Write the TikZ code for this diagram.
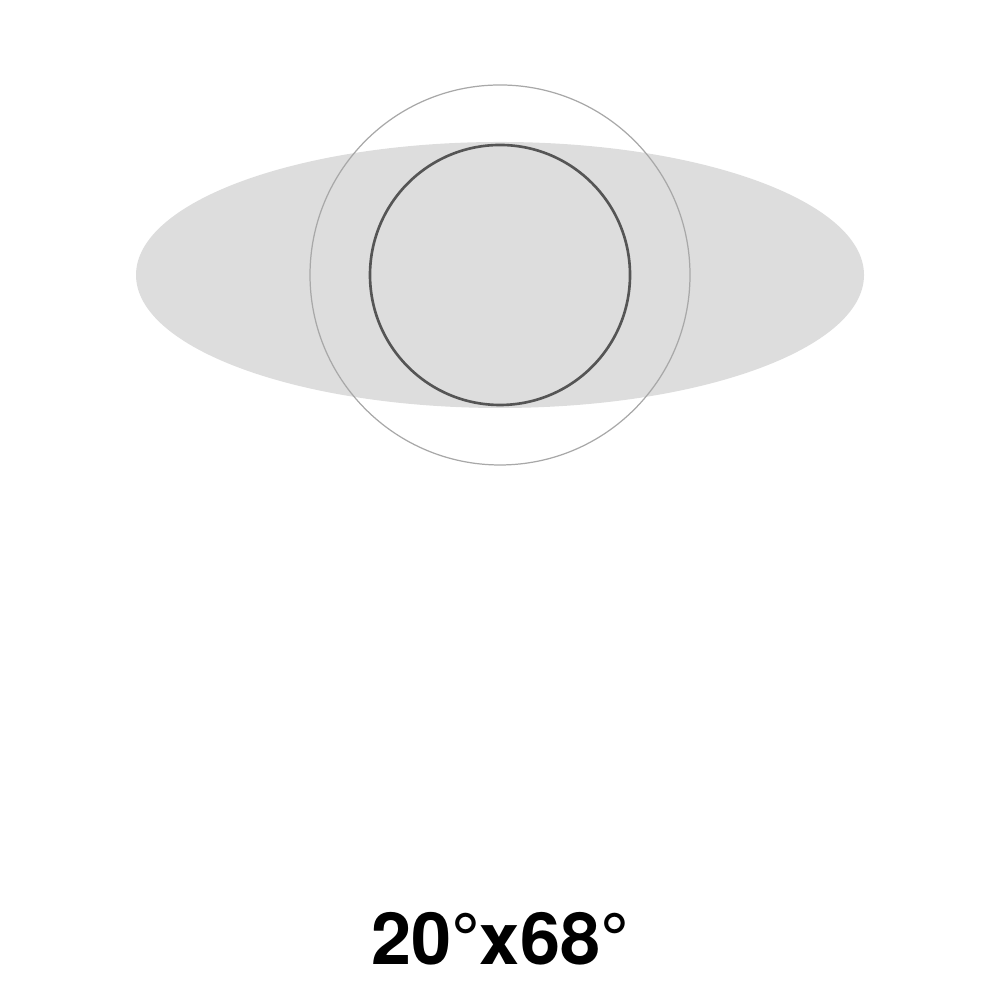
\documentclass[tikz,border=0pt]{standalone}
\usepackage{fontspec}
\setmainfont{TeX Gyre Heros}
\usetikzlibrary{shapes.geometric}

\definecolor{fieldgray}{HTML}{DDDDDD}
\definecolor{ringgray}{HTML}{A8A8A8}
\definecolor{edgegray}{HTML}{555555}

\tikzstyle{field} = [ellipse,fill=fieldgray,inner sep=0pt,minimum width=7.28cm,minimum height=2.66cm]
\tikzstyle{ring} = [circle,draw=ringgray,line width=0.35pt,inner sep=0pt]
\tikzstyle{disc} = [circle,draw=edgegray,line width=0.75pt,inner sep=0pt]
\tikzstyle{caption} = [font=\fontsize{20.5}{25}\selectfont\bfseries,inner sep=0pt]

\begin{document}
\begin{tikzpicture}
	\useasboundingbox (0,0) rectangle (10,10);
	\node[field] (fov) at (5,7.25) {};
	\node[ring,minimum size=3.8cm] (outer) at (5,7.25) {};
	\node[disc,minimum size=2.6cm] (inner) at (5,7.25) {};
	
	\node[caption,anchor=base] (size) at (5,0.35) {20°x68°};
	\end{tikzpicture}
\end{document}
